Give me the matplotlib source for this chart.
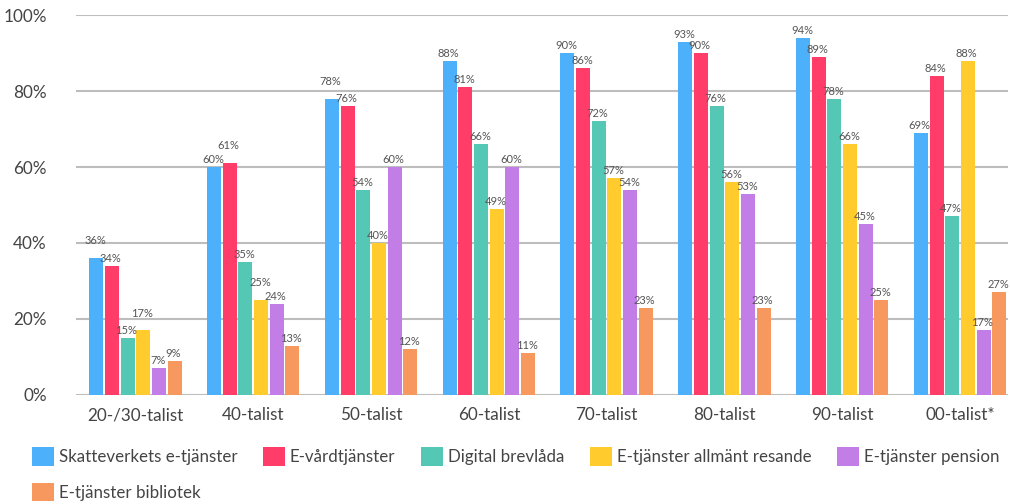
import numpy as np
import matplotlib
matplotlib.use("Agg")
import matplotlib.pyplot as plt
from matplotlib.patches import Patch

plt.rcParams['font.family'] = ['Lato', 'DejaVu Sans']

# data (percent)
categories = ["20-/30-talist", "40-talist", "50-talist", "60-talist",
              "70-talist", "80-talist", "90-talist", "00-talist*"]
series_names = ["Skatteverkets e-tjänster", "E-vårdtjänster", "Digital brevlåda",
                "E-tjänster allmänt resande", "E-tjänster pension",
                "E-tjänster bibliotek"]
skatteverket = [36, 60, 78, 88, 90, 93, 94, 69]
vard = [34, 61, 76, 81, 86, 90, 89, 84]
brevlada = [15, 35, 54, 66, 72, 76, 78, 47]
resande = [17, 25, 40, 49, 57, 56, 66, 88]
pension = [7, 24, 60, 60, 54, 53, 45, 17]
bibliotek = [9, 13, 12, 11, 23, 23, 25, 27]
colors = ["#4DB0FB", "#FF3D68", "#55C8B5", "#FFCB2D", "#C27DE6", "#F7985F"]

all_series = [skatteverket, vard, brevlada, resande, pension, bibliotek]

fig = plt.figure(figsize=(10.1, 5.04), dpi=100)
ax = fig.add_axes([0.0752, 0.2163, 0.9228, 0.7539])

x = np.arange(len(categories))
pitch = 0.133
width = 0.119
n = len(all_series)
for i, (vals, col) in enumerate(zip(all_series, colors)):
    pos = x + (i - 2.5) * pitch
    ax.bar(pos, vals, width=width, color=col, zorder=3)
    for j, (p, v) in enumerate(zip(pos, vals)):
        # lift a label when its neighbour bar is nearly as tall, so they don't collide
        lift = 0
        for k in (i - 1, i + 1):
            if 0 <= k < n:
                w = all_series[k][j]
                if v >= 10 and w >= 10 and 0 < v - w <= 2:
                    lift = 7
        ax.annotate("%d%%" % v, (p - 0.01, v), xytext=(0, 1.5 + lift),
                    textcoords="offset points", ha="center", va="bottom",
                    fontsize=8, color="#555555", zorder=4)

ax.set_xlim(-0.505, 7.407)
ax.set_ylim(0, 100)
ax.set_yticks([0, 20, 40, 60, 80, 100])
ax.set_yticklabels(["0%", "20%", "40%", "60%", "80%", "100%"])
ax.set_xticks(x)
ax.set_xticklabels(categories)
ax.tick_params(axis="both", length=0, labelsize=12.3, colors="#444444")
ax.tick_params(axis="y", pad=21)
ax.tick_params(axis="x", pad=9)
for s in ax.spines.values():
    s.set_visible(False)
ax.yaxis.grid(True, color="#BDBDBD", linewidth=1.5, zorder=0)
ax.set_axisbelow(True)

# order handles so the 6th item lands on a second row under the first
handles = [Patch(facecolor=c, edgecolor="none") for c in colors]
order = [0, 5, 1, 2, 3, 4]
fig.legend([handles[k] for k in order], [series_names[k] for k in order],
           ncol=5, loc="upper left", bbox_to_anchor=(0.0228, 0.129),
           frameon=False, fontsize=12.2, handlelength=1.3, handleheight=1.3,
           handletextpad=0.3, columnspacing=1.5, labelspacing=1.0,
           borderpad=0, labelcolor="#444444")

fig.savefig("out.png", dpi=100)
